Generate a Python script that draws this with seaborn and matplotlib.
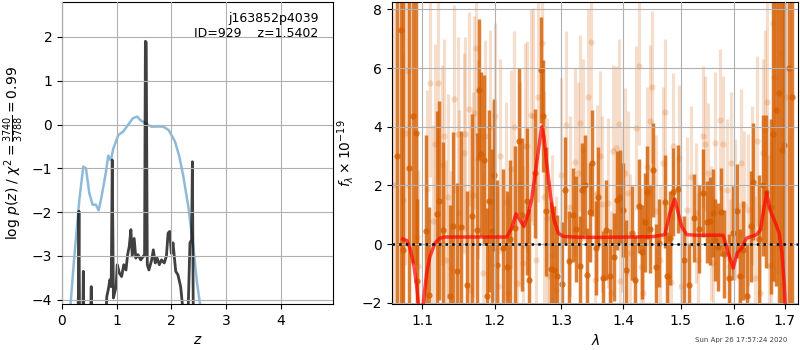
import matplotlib
matplotlib.use("Agg")
import matplotlib.pyplot as plt
import seaborn as sns
from matplotlib.ticker import FixedLocator, NullLocator, FormatStrFormatter

# --- p(z) panel ---
z_prior = [0.10, 0.158, 0.22, 0.317, 0.39, 0.438, 0.50, 0.56, 0.62, 0.67, 0.725, 0.80,
           0.846, 0.878, 0.90, 0.938, 1.03, 1.12, 1.213, 1.293, 1.33, 1.378, 1.426, 1.536,
           1.64, 1.76, 1.853, 1.945, 2.02, 2.067, 2.146, 2.22, 2.31, 2.40, 2.47, 2.53, 2.60]
logp_prior = [-5.0, -4.08, -3.09, -1.72, -0.96, -1.0, -1.57, -1.83, -1.83, -1.96, -1.64, -1.11,
              -0.71, -0.80, -0.78, -0.55, -0.24, -0.16, 0.0, 0.14, 0.16, 0.18, 0.11, 0.015,
              -0.05, -0.045, -0.05, -0.12, -0.28, -0.39, -0.73, -1.19, -1.87, -2.78, -3.62, -4.15, -5.0]

z_post = [0.26, 0.29, 0.30, 0.31, 0.32, 0.35, 0.38, 0.39, 0.40, 0.45, 0.52, 0.535, 0.545, 0.60,
          0.78, 0.82, 0.846, 0.877, 0.90, 0.919, 0.94, 0.97, 0.99, 1.01, 1.05, 1.09, 1.13, 1.17,
          1.20, 1.23, 1.26, 1.285, 1.32, 1.35, 1.39, 1.44, 1.49, 1.51, 1.525, 1.54, 1.56, 1.59,
          1.64, 1.67, 1.705, 1.74, 1.78, 1.82, 1.87, 1.91, 1.94, 1.97, 2.0, 2.03, 2.08, 2.12,
          2.17, 2.20, 2.25, 2.29, 2.31, 2.34, 2.37, 2.385, 2.40, 2.45]
logp_post = [-5.0, -4.5, -3.85, -1.98, -4.3, -5.0, -4.6, -3.35, -4.5, -5.0, -4.5, -3.7, -4.6, -5.5,
             -5.0, -3.92, -3.77, -3.54, -3.7, -0.81, -3.96, -3.8, -3.7, -3.2, -3.39, -3.47, -3.2, -3.32,
             -2.97, -2.78, -2.4, -3.0, -2.6, -3.05, -2.97, -3.09, -3.0, -3.0, 1.9, 1.88, -3.2, -3.32,
             -3.09, -2.86, -3.16, -3.05, -3.2, -3.09, -3.16, -3.0, -2.48, -2.44, -2.94, -2.7, -3.35, -3.43,
             -3.7, -4.08, -5.0, -4.6, -4.1, -2.7, -2.63, -0.85, -4.2, -5.5]

# --- spectrum panel: beam A (dark) ---
wave_a = [
    1.0671, 1.0722, 1.0752, 1.0830, 1.0882, 1.0911, 1.0934, 1.1049, 1.1089, 1.1192,
    1.1227, 1.1281, 1.1372, 1.1417, 1.1464, 1.1519, 1.1602, 1.1672, 1.1751, 1.1775,
    1.1803, 1.1846, 1.1884, 1.1924, 1.1955, 1.1993, 1.2027, 1.2123, 1.2177, 1.2221,
    1.2294, 1.2358, 1.2398, 1.2468, 1.2510, 1.2589, 1.2680, 1.2715, 1.2756, 1.2833,
    1.2884, 1.2935, 1.3013, 1.3060, 1.3113, 1.3181, 1.3233, 1.3287, 1.3332, 1.3380,
    1.3409, 1.3457, 1.3490, 1.3545, 1.3582, 1.3669, 1.3718, 1.3774, 1.3846, 1.3901,
    1.3941, 1.3996, 1.4052, 1.4148, 1.4204, 1.4273, 1.4324, 1.4367, 1.4410, 1.4452,
    1.4509, 1.4556, 1.4609, 1.4714, 1.4755, 1.4808, 1.4856, 1.4946, 1.5065, 1.5155,
    1.5247, 1.5338, 1.5412, 1.5475, 1.5537, 1.5587, 1.5636, 1.5692, 1.5743, 1.5806,
    1.5889, 1.5966, 1.6043, 1.6106, 1.6159, 1.6236, 1.6320, 1.6365, 1.6484, 1.6551,
    1.6617, 1.6717, 1.6763, 1.6817, 1.6884, 1.6933, 1.6986, 1.7076, 1.7143]
flux_a = [
    3.0, 7.3, -0.2, 2.6, 4.35, 3.8, -1.27, 0.43, -1.73, 1.03,
    1.48, 0.49, -1.76, 0.62, -0.93, 0.57, -1.38, 0.94, 0.49, 5.26,
    3.08, 2.87, -1.78, 1.46, 0.43, 2.36, -0.73, -0.14, -0.8, 0.17,
    0.54, 3.5, 1.0, 1.46, -1.21, 2.42, 5.94, 4.37, 1.11, -0.85,
    -0.9, -1.1, -1.35, 1.85, -0.57, 1.0, 0.51, -0.76, 1.85, 2.02,
    -1.04, 1.08, 2.76, -0.14, 1.6, -1.16, 0.49, -1.1, -0.45, 1.49,
    1.62, 1.17, -0.87, 0.37, -1.21, 1.31, -0.27, 0.74, 1.76, 0.51,
    2.53, -0.8, 0.03, 1.45, -1.1, 0.2, 1.76, 1.87, -0.53, -1.38,
    0.89, 0.51, 1.74, 0.75, 0.77, 1.06, 0.15, -0.1, 1.1, -0.33,
    -1.16, 0.37, 1.14, -1.1, -0.22, -1.78, 0.6, 2.13, 0.17, 2.0,
    1.79, 1.28, 3.75, 4.57, 5.16, 3.21, 3.38, 6.0, 5.0]
err_a = [
    12, 12, 10, 6, 5, 4.5, 2.8, 3.3, 3.0, 3.5,
    3.4, 3.0, 3.1, 3.2, 3.0, 3.3, 3.2, 3.5, 3.3, 2.4,
    2.8, 2.9, 3.0, 3.1, 2.8, 2.6, 2.9, 2.7, 2.6, 2.7,
    2.8, 2.5, 2.6, 2.5, 2.4, 2.2, 1.8, 1.9, 2.2, 2.3,
    2.2, 2.1, 2.1, 1.8, 1.7, 1.6, 1.8, 1.7, 1.6, 1.7,
    1.6, 1.7, 1.8, 1.6, 1.7, 1.6, 1.7, 1.6, 1.5, 1.7,
    1.6, 1.6, 1.7, 1.6, 1.5, 1.6, 1.6, 1.7, 1.6, 1.5,
    1.6, 1.5, 1.5, 1.6, 1.5, 1.6, 1.5, 1.5, 1.5, 1.4,
    1.5, 1.5, 1.5, 1.4, 1.5, 1.5, 1.4, 1.5, 1.5, 1.5,
    1.5, 1.6, 1.6, 1.6, 1.7, 1.8, 1.9, 2.0, 2.2, 2.4,
    2.6, 3.0, 5.0, 6.0, 8.0, 9.0, 10.0, 12.0, 15.0]

# --- spectrum panel: beam B (light) ---
wave_b = [
    1.0633, 1.0752, 1.0774, 1.0817, 1.0926, 1.0947, 1.1066, 1.1102, 1.1136, 1.1169,
    1.1216, 1.1259, 1.1293, 1.1317, 1.1351, 1.1392, 1.1433, 1.1479, 1.1502, 1.1565,
    1.1585, 1.1634, 1.1651, 1.1687, 1.1704, 1.1732, 1.1761, 1.1838, 1.1867, 1.1938,
    1.1974, 1.2010, 1.2051, 1.2072, 1.2160, 1.2196, 1.2243, 1.2277, 1.2328, 1.2376,
    1.2418, 1.2440, 1.2480, 1.2533, 1.2570, 1.2613, 1.2643, 1.2696, 1.2734, 1.2780,
    1.2814, 1.2853, 1.2919, 1.2988, 1.3075, 1.3129, 1.3208, 1.3260, 1.3300, 1.3348,
    1.3417, 1.3477, 1.3529, 1.3563, 1.3610, 1.3644, 1.3746, 1.3796, 1.3837, 1.3876,
    1.3924, 1.3954, 1.3976, 1.4035, 1.4080, 1.4109, 1.4221, 1.4276, 1.4310, 1.4345,
    1.4402, 1.4455, 1.4485, 1.4567, 1.4627, 1.4685, 1.4729, 1.4782, 1.4826, 1.4871,
    1.4975, 1.5005, 1.5108, 1.5186, 1.5278, 1.5324, 1.5401, 1.5449, 1.5499, 1.5555,
    1.5596, 1.5626, 1.5730, 1.5777, 1.5861, 1.5910, 1.5943, 1.6019, 1.6083, 1.6129,
    1.6184, 1.6271, 1.6336, 1.6399, 1.6448, 1.6507, 1.6567, 1.6597, 1.6637, 1.6673,
    1.6713, 1.6751, 1.6789, 1.6852, 1.6919, 1.7020]
flux_b = [
    2.0, 1.51, 3.78, 5.9, 0.24, -0.76, 1.87, 5.5, 0.77, 3.42,
    5.5, 2.7, 3.69, -0.53, 1.62, -0.82, 4.94, 3.75, 1.06, 3.1,
    3.75, 4.6, -1.56, 1.68, 4.48, 6.67, 2.89, -0.99, 3.67, 4.0,
    1.45, 4.35, -1.44, 3.0, 1.45, -1.67, 2.55, 3.98, -1.33, 2.02,
    -0.65, 3.35, 3.33, 4.4, 4.35, -0.53, 5.03, 6.87, 1.62, 0.89,
    -1.1, -0.36, -1.56, 2.36, 4.06, 1.28, 2.81, 2.42, 4.14, 3.2,
    5.0, 6.88, -1.21, 1.74, 2.99, 1.37, 1.4, -1.67, 3.19, 3.27,
    4.1, -1.27, 1.17, 2.42, 1.74, -0.31, 3.95, 6.07, -0.8, -1.67,
    2.64, 4.2, 5.35, 1.11, -0.53, 2.76, 4.5, -1.1, -1.31, 3.33,
    2.93, -1.44, 1.15, 2.3, 1.06, -0.53, 3.67, 3.42, 2.42, 0.37,
    -0.65, 3.46, 4.24, 3.42, 1.85, -0.76, 2.78, 1.17, -1.1, 2.78,
    1.34, 1.17, 2.0, -1.16, 3.5, -1.67, 3.1, 3.89, 4.86, -0.76,
    -0.7, 7.55, 5.71, 7.98, 6.5, 5.0]
err_b = [
    6, 5, 4.5, 4, 3.5, 3.3, 3.4, 3.2, 3.3, 3.4,
    3.2, 3.4, 3.3, 3.4, 3.5, 3.3, 3.2, 3.3, 3.5, 3.4,
    3.3, 3.3, 3.4, 3.5, 3.3, 3.0, 3.4, 3.4, 3.3, 3.3,
    3.4, 3.2, 3.4, 3.3, 3.4, 3.3, 3.4, 3.3, 3.4, 3.5,
    3.3, 3.5, 3.6, 3.6, 3.7, 3.5, 3.6, 3.5, 3.6, 3.4,
    3.3, 3.4, 3.2, 3.3, 3.2, 3.1, 3.2, 3.1, 3.0, 3.1,
    3.0, 2.9, 3.0, 3.0, 2.9, 3.0, 2.9, 2.8, 2.9, 2.8,
    2.9, 2.8, 2.8, 2.9, 2.8, 2.7, 2.8, 2.7, 2.7, 2.6,
    2.7, 2.6, 2.6, 2.6, 2.5, 2.6, 2.5, 2.5, 2.4, 2.5,
    2.5, 2.4, 2.5, 2.4, 2.4, 2.3, 2.4, 2.3, 2.4, 2.3,
    2.3, 2.4, 2.4, 2.3, 2.4, 2.3, 2.4, 2.4, 2.5, 2.5,
    2.5, 2.6, 2.7, 2.8, 2.9, 3.0, 3.2, 3.4, 3.6, 3.8,
    4.2, 6, 7, 9, 12, 14]

# --- best-fit model ---
model_wave = [1.0744, 1.0796, 1.0839, 1.0891, 1.0926, 1.0947, 1.0975, 1.1000, 1.1013, 1.1058,
              1.1102, 1.1168, 1.1234, 1.1301, 1.1400, 1.1600, 1.1800, 1.2000, 1.2173, 1.2246,
              1.2309, 1.2428, 1.2493, 1.2543, 1.2619, 1.2695, 1.2730, 1.2771, 1.2833, 1.2884,
              1.2951, 1.3028, 1.3300, 1.3700, 1.4100, 1.4500, 1.4719, 1.4808, 1.4894, 1.4957,
              1.5018, 1.5109, 1.5300, 1.5600, 1.5786, 1.5881, 1.5977, 1.6054, 1.6139, 1.6236,
              1.6432, 1.6511, 1.6563, 1.6631, 1.6697, 1.6797, 1.6884, 1.6939, 1.6986, 1.7020]
model_flux = [0.17, 0.12, -0.14, -0.76, -1.44, -2.0, -3.0, -3.0, -2.0, -0.99,
              -0.42, 0.03, 0.2, 0.24, 0.24, 0.24, 0.24, 0.24, 0.24, 0.54,
              1.03, 0.6, 1.05, 1.51, 2.76, 4.0, 3.66, 2.76, 1.62, 0.83,
              0.37, 0.26, 0.23, 0.23, 0.24, 0.25, 0.32, 1.06, 1.53, 1.06,
              0.6, 0.32, 0.3, 0.3, 0.3, -0.3, -0.82, -0.3, -0.14, 0.2,
              0.32, 0.49, 1.06, 1.76, 1.17, 0.77, 0.37, -0.3, -1.33, -2.5]

wave_ticks = [1.1, 1.2, 1.3, 1.4, 1.5, 1.6, 1.7]

grism_color = "#d55e00"

fig = plt.figure(figsize=(8, 3.5), dpi=100)
ax1 = fig.add_axes([0.0775, 0.131, 0.339, 0.8637])
ax2 = fig.add_axes([0.49, 0.131, 0.508, 0.8637])

# left: log p(z)
sns.lineplot(x=z_prior, y=logp_prior, ax=ax1, color="tab:blue", alpha=0.5, lw=1.8)
sns.lineplot(x=z_post, y=logp_post, ax=ax1, color="k", alpha=0.75, lw=2)
ax1.set_xlim(0, 4.96)
ax1.set_ylim(-4.1, 2.8)
ax1.set_axisbelow(False)
ax1.grid(True)
ax1.set_xlabel(r"$z$")
ax1.set_ylabel(r"log $p(z)$ / $\chi^2=\frac{3740}{3788}=0.99$")
ax1.text(0.945, 0.965, "j163852p4039\nID=929    z=1.5402", transform=ax1.transAxes,
         ha="right", va="top", fontsize=9)

# right: spectrum
ax2.errorbar(wave_b, flux_b, yerr=err_b, fmt="o", color=grism_color, alpha=0.2,
             ms=4.5, mec="none", elinewidth=2.3, capsize=0, zorder=1)
ax2.errorbar(wave_a, flux_a, yerr=err_a, fmt="o", color=grism_color, alpha=0.8,
             ms=4.5, mec="none", elinewidth=2.5, capsize=0, zorder=2)
sns.lineplot(x=model_wave, y=model_flux, ax=ax2, color="r", alpha=0.7, lw=2.5, zorder=4)
ax2.axhline(0, color="k", ls=":", lw=1.8, zorder=5)

ax2.set_xscale("log")
ax2.set_xlim(1.0607, 1.7278)
ax2.set_ylim(-2.05, 8.26)
ax2.xaxis.set_major_locator(FixedLocator(wave_ticks))
ax2.xaxis.set_minor_locator(NullLocator())
ax2.xaxis.set_major_formatter(FormatStrFormatter("%.1f"))
ax2.set_axisbelow(False)
ax2.grid(True)
ax2.set_xlabel(r"$\lambda$")
ax2.set_ylabel(r"$f_\lambda\times10^{-19}$")

fig.text(0.984, 0.028, "Sun Apr 26 17:57:24 2020", ha="right", va="center",
         fontsize=5, color="0.25")

fig.savefig("out.png", dpi=100)
